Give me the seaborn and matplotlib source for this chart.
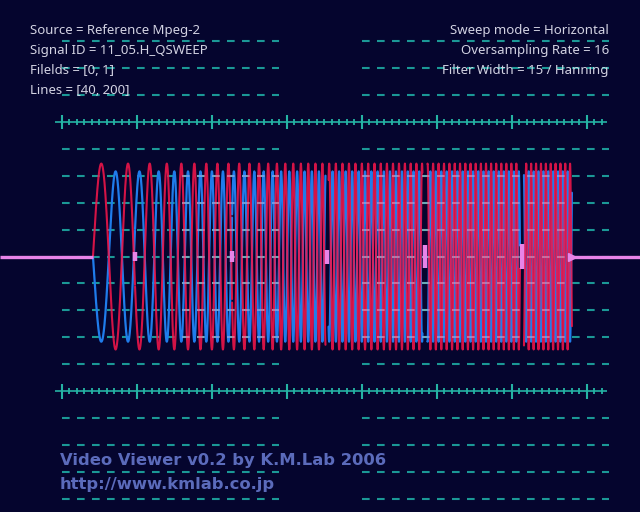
import numpy as np
import pandas as pd
import matplotlib
matplotlib.use("Agg")
import matplotlib.pyplot as plt
import seaborn as sns

# ---------------- data ----------------
# x unit = one minor ruler tick (0 = first major tick), y unit = one grid row
SWEEP_START = 4.13
SWEEP_END = 68.0
KNOT_X = [4.13, 7.07, 10.27, 12.8, 14.93, 16.8, 18.4, 19.87, 22.4, 26.4, 31.73, 35.73, 42.4, 48.4, 55.07, 61.33, 68.0]
KNOT_PERIOD = [4.67, 3.47, 2.93, 2.27, 1.93, 1.73, 1.6, 1.47, 1.47, 1.24, 1.0, 0.89, 0.83, 0.74, 0.69, 0.66, 0.64]
AMP_RED = 3.45
AMP_BLUE = 3.16
BLOCK_EDGES = [9.73, 22.67, 35.33, 48.4, 61.33]
GAP_WIDTHS = [0.0, 0.0, 0.4, 0.67, 0.53]
PINK_HALF = [0.15, 0.22, 0.26, 0.41, 0.45]
MAJOR_TICKS = [0, 10, 20, 30, 40, 50, 60, 70]
GRID_ROWS = [8, 7, 6, 4, 3, 2, 1, 0, -1, -2, -3, -4, -6, -7, -8, -9]
RULER_ROWS = [5, -5]
INFO_LEFT = ["Source = Reference Mpeg-2", "Signal ID = 11_05.H_QSWEEP",
             "Filelds = [0, 1]", "Lines = [40, 200]"]
INFO_RIGHT = ["Sweep mode = Horizontal", "Oversampling Rate = 16",
              "Filter Width = 15 / Hanning"]
FOOTER = ["Video Viewer v0.2 by K.M.Lab 2006", "http://www.kmlab.co.jp"]

# ---------------- build the traces ----------------
x = np.arange(SWEEP_START, SWEEP_END, 0.01)
period = np.interp(x, KNOT_X, KNOT_PERIOD)
phase = 2 * np.pi * np.concatenate([[0], np.cumsum(np.diff(x) / period[1:])])
block = np.searchsorted(BLOCK_EDGES, x)
keep = np.ones_like(x, dtype=bool)
for e, g in zip(BLOCK_EDGES, GAP_WIDTHS):
    if g > 0:
        keep &= ~((x > e - g / 2) & (x < e + g / 2))
df = pd.DataFrame({"x": x, "red": AMP_RED * np.sin(phase),
                   "blue": -AMP_BLUE * np.sin(phase), "block": block})[keep]

BG = "#05052e"
TEAL = "#1b9896"
RULER = "#25b3a4"
sns.set_theme(style="dark")
plt.rcParams["lines.scale_dashes"] = False

fig = plt.figure(figsize=(6.4, 5.12), dpi=100, facecolor=BG)
ax = fig.add_axes([0, 0, 1, 1])
ax.set_facecolor(BG)
ax.set_xlim(-8.267, 77.07)
ax.set_ylim(-9.48, 9.52)
ax.axis("off")

DASH = (0, (5.5, 5.3))
# dashed grid rows
for x0, x1 in [(0, 29), (40, 73)]:
    ax.hlines(GRID_ROWS, x0, x1, colors=TEAL, lw=1.5, linestyles=DASH, zorder=1)

# rulers
minor = [m for m in range(1, 73) if m % 10]
for r in RULER_ROWS:
    ax.hlines(r, -0.93, 72.7, colors=RULER, lw=1.2, zorder=1)
    ax.vlines(MAJOR_TICKS, r - 0.27, r + 0.27, colors=RULER, lw=1.5, zorder=1)
    ax.vlines(minor, r - 0.11, r + 0.11, colors=RULER, lw=1.3, zorder=1)

# traces
sns.lineplot(data=df, x="x", y="blue", units="block", estimator=None, sort=False,
             color="#1f7ceb", lw=1.6, alpha=1.0, ax=ax, zorder=3)
sns.lineplot(data=df, x="x", y="red", units="block", estimator=None, sort=False,
             color="#f2164a", lw=1.5, alpha=0.88, ax=ax, zorder=4)

# grid showing through the dense part of the sweep
inner = [r for r in GRID_ROWS if abs(r) <= 3]
for x0, x1 in [(16, 29), (40, 68)]:
    ax.hlines(inner, x0, x1, colors="#e0c8e8", lw=1.5, linestyles=DASH, alpha=0.4, zorder=4.5)

# pink trace
PINK = "#e884e8"
ax.hlines(0, -8.3, SWEEP_START, colors=PINK, lw=2.4, zorder=5)
ax.hlines(0, SWEEP_END, 77.1, colors=PINK, lw=2.4, zorder=5)
ax.vlines(BLOCK_EDGES, [-h for h in PINK_HALF], PINK_HALF, colors=PINK, lw=3.2, zorder=5)
ax.plot([SWEEP_END], [0], marker=">", ms=6, color=PINK, zorder=5)

# texts
for i, t in enumerate(INFO_LEFT):
    fig.text(30 / 640, 1 - (34.3 + 20 * i) / 512, t, fontsize=9.5, color="#d2d2e2",
             family="Noto Sans", va="baseline", ha="left")
for i, t in enumerate(INFO_RIGHT):
    fig.text(609 / 640, 1 - (34.3 + 20 * i) / 512, t, fontsize=9.5, color="#d2d2e2",
             family="Noto Sans", va="baseline", ha="right")
for i, t in enumerate(FOOTER):
    fig.text(60 / 640, 1 - (464.5 + 24.5 * i) / 512, t, fontsize=11.8, color="#5b6bbb",
             family="DejaVu Sans", fontweight="bold", va="baseline", ha="left")

fig.savefig("out.png", dpi=100, facecolor=BG)
